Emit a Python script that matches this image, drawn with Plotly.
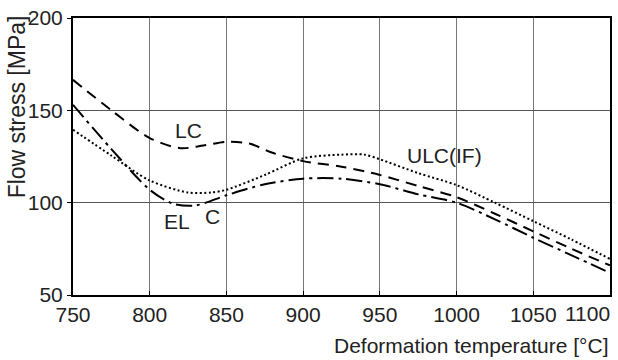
import plotly.graph_objects as go

lc_x = [750, 775, 800, 820, 835, 850, 865, 880, 900, 925, 950, 975, 1000, 1025, 1050, 1075, 1100]
lc_y = [166.5, 150, 135, 129.5, 131, 133, 132, 127, 122.5, 119.5, 115, 109, 103, 94, 84.5, 75, 66]

ulc_x = [750, 775, 800, 825, 840, 850, 875, 900, 925, 940, 950, 975, 1000, 1025, 1050, 1075, 1100]
ulc_y = [139.5, 125.5, 112, 105.5, 105.5, 107, 115, 124, 126, 126, 123.5, 116, 109.5, 100, 90, 80, 69.5]

el_x = [750, 775, 800, 815, 830, 850, 875, 900, 925, 950, 975, 1000, 1025, 1050, 1075, 1100]
el_y = [153, 129, 107, 99.5, 98.5, 104, 110, 113, 113, 110, 104.5, 100, 91, 81, 71.5, 62]

labels = [("LC", 825, 139), ("ULC(IF)", 992, 125.3), ("EL", 817.5, 90), ("C", 841, 92.5)]

x_ticks = [750, 800, 850, 900, 950, 1000, 1050, 1100]
x_tick_text = ["750", "800", "850", "900", "950", "1000", "1050", ""]
last_x_label = "1100"
y_ticks = [50, 100, 150, 200]

FS = 21
fig = go.Figure()
fig.add_trace(go.Scatter(x=lc_x, y=lc_y, mode="lines", line=dict(color="black", width=2, dash="11px,7px", shape="spline", smoothing=0.8)))
fig.add_trace(go.Scatter(x=ulc_x, y=ulc_y, mode="lines", line=dict(color="black", width=2, dash="2px,2.5px", shape="spline", smoothing=0.8)))
fig.add_trace(go.Scatter(x=el_x, y=el_y, mode="lines", line=dict(color="black", width=2, dash="16px,5px,3px,5px", shape="spline", smoothing=0.8)))

for t, x, y in labels:
    fig.add_annotation(x=x, y=y, text=t, showarrow=False, font=dict(size=FS, color="#222"))

fig.add_annotation(xref="paper", yref="paper", x=1.004, y=-0.066, xanchor="right", yanchor="middle",
                   text=last_x_label, showarrow=False, font=dict(size=FS, color="#222"))
fig.add_annotation(xref="paper", yref="paper", x=1.002, y=-0.184, xanchor="right", yanchor="middle",
                   text="Deformation temperature [°C]", showarrow=False, font=dict(size=FS, color="#222"))
fig.add_annotation(xref="paper", yref="paper", x=-0.104, y=0.678, xanchor="center", yanchor="middle",
                   text="Flow stress [MPa]", textangle=-90, showarrow=False, font=dict(size=23, color="#222"))

fig.update_layout(
    width=618, height=360,
    margin=dict(l=73, r=6, t=12, b=65),
    paper_bgcolor="white", plot_bgcolor="white",
    showlegend=False,
    font=dict(family="Liberation Sans, Arial, sans-serif", size=FS, color="#222"),
)
fig.update_xaxes(range=[750, 1100], tickvals=x_ticks, ticktext=x_tick_text, showgrid=True, gridcolor="#777", gridwidth=1,
                 showline=True, linecolor="black", linewidth=2, mirror=True, zeroline=False,
                 ticks="inside", ticklen=4, tickcolor="black")
fig.update_yaxes(range=[50, 200], tickvals=y_ticks, showgrid=True, gridcolor="#555", gridwidth=1,
                 showline=True, linecolor="black", linewidth=2, mirror=True, zeroline=False,
                 ticks="outside", ticklen=4, tickcolor="black")

fig.write_html("out.html")
